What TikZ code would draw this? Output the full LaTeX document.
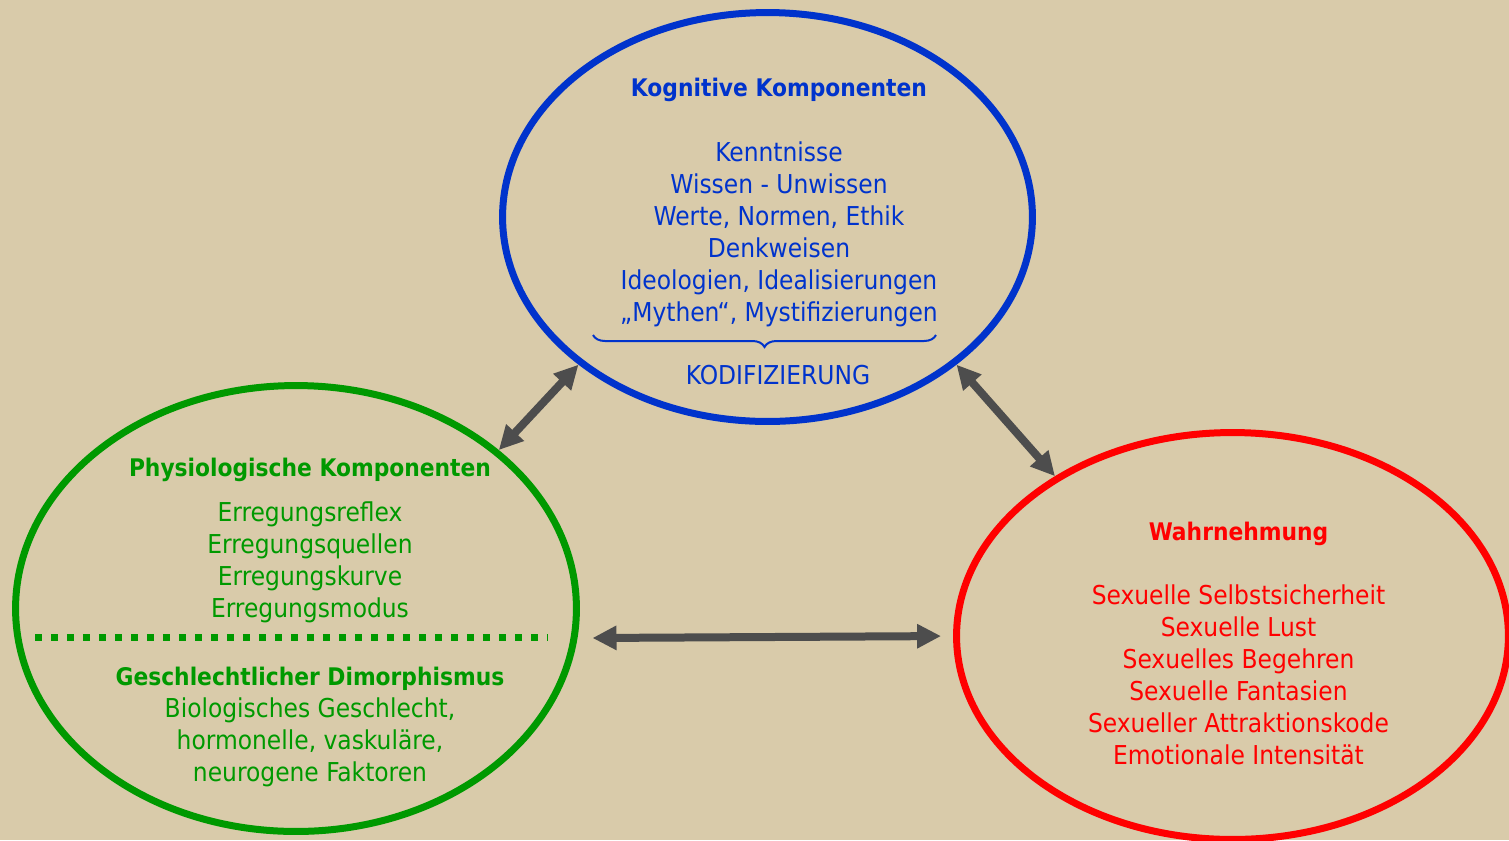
\documentclass[tikz,border=0pt]{standalone}
\usepackage{fontspec}
\setmainfont{DejaVu Sans Condensed}
\usepackage{xcolor}
\usetikzlibrary{shapes.geometric}
\usetikzlibrary{arrows.meta}
\usetikzlibrary{decorations.pathreplacing}

\definecolor{sand}{HTML}{D9CBAA}
\definecolor{kogblue}{HTML}{0033CC}
\definecolor{phygreen}{HTML}{009900}
\definecolor{wahrred}{HTML}{FF0000}
\definecolor{arrgray}{HTML}{4D4D4D}

\begin{document}
\begin{tikzpicture}[x=0.02cm, y=-0.02cm]
\tikzset{
  ring/.style={ellipse, draw, line width=0.14cm, inner sep=0pt},
  tx/.style={align=center, anchor=base, inner sep=0pt, font=\fontsize{14.8}{18.2}\selectfont},
  hd/.style={tx, font=\fontsize{13.8}{18.2}\selectfont\bfseries},
  dbl/.style={{Triangle[length=0.48cm, width=0.46cm]}-{Triangle[length=0.48cm, width=0.46cm]}, line width=0.16cm, draw=arrgray},
}

\path[use as bounding box, fill=sand] (0,0) rectangle (1509,840);

% the three components
\node[ring, draw=kogblue, minimum width=10.6cm, minimum height=8.18cm] (kog) at (767.5,217) {};
\node[ring, draw=phygreen, minimum width=11.22cm, minimum height=8.92cm] (phys) at (296,608.5) {};
\node[ring, draw=wahrred, minimum width=11.04cm, minimum height=8.14cm] (wahr) at (1232.5,636) {};

% kognitive (multi-line nodes sit on their last baseline)
\node[hd, text=kogblue] (kogt) at (779,96.7) {Kognitive Komponenten};
\node[tx, text=kogblue] (kogl) at (779,321.7) {Kenntnisse\\Wissen - Unwissen\\Werte, Normen, Ethik\\Denkweisen\\Ideologien, Idealisierungen\\„Mythen“, Mystifizierungen};
\coordinate (brl) at (593,335);
\coordinate (brr) at (936,335);
\draw[kogblue, line width=0.04cm, decorate, decoration={brace, mirror, amplitude=0.24cm}] (brl) -- (brr);
\node[tx, text=kogblue] (kodi) at (778,384.3) {KODIFIZIERUNG};

% physiologische
\node[hd, text=phygreen] (phyt) at (310,476) {Physiologische Komponenten};
\node[tx, text=phygreen] (phyl) at (310,617) {Erregungsreflex\\Erregungsquellen\\Erregungskurve\\Erregungsmodus};
\coordinate (dl) at (35,637);
\coordinate (dr) at (548,637);
\draw[phygreen, line width=0.14cm, dash pattern=on 0.14cm off 0.18cm] (dl) -- (dr);
\node[hd, text=phygreen] (dimt) at (310,685) {Geschlechtlicher Dimorphismus};
\node[tx, text=phygreen] (diml) at (310,781) {Biologisches Geschlecht,\\hormonelle, vaskuläre,\\neurogene Faktoren};

% wahrnehmung
\node[hd, text=wahrred] (wahrt) at (1238.5,540) {Wahrnehmung};
\node[tx, text=wahrred] (wahrl) at (1238.5,764.3) {Sexuelle Selbstsicherheit\\Sexuelle Lust\\Sexuelles Begehren\\Sexuelle Fantasien\\Sexueller Attraktionskode\\Emotionale Intensität};

\draw[dbl] (kog.218) -- (phys.38);
\draw[dbl] (kog.322) -- (wahr.138);
\draw[dbl, shorten <=0.3cm, shorten >=0.24cm] (phys.-6.3) -- (wahr.180);
\end{tikzpicture}
\end{document}
